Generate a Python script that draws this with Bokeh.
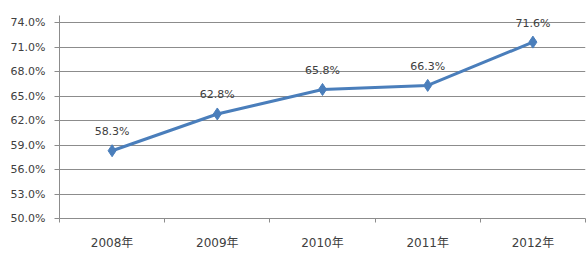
from bokeh.plotting import figure
from bokeh.models import Range1d, FixedTicker, PrintfTickFormatter, ColumnDataSource
from bokeh.embed import file_html
from bokeh.resources import INLINE
from bokeh.core.properties import value

years = ["2008年", "2009年", "2010年", "2011年", "2012年"]
rates = [58.3, 62.8, 65.8, 66.3, 71.6]
y_ticks = [50, 53, 56, 59, 62, 65, 68, 71, 74]

xs = [i + 0.5 for i in range(len(years))]
labels = ["%.1f%%" % v for v in rates]
src = ColumnDataSource(dict(x=xs, y=rates, label=labels))

FONT = "DejaVu Sans, Noto Sans CJK SC"
TXT = "#404040"
GRID = "#8c8c8c"
BLUE = "#4a7ebb"

p = figure(width=586, height=254, output_backend="svg", toolbar_location=None,
           x_range=Range1d(0, len(years)), y_range=Range1d(y_ticks[0], y_ticks[-1] + 0.86),
           min_border_left=59, min_border_right=1, min_border_top=15, min_border_bottom=36)
p.outline_line_color = None
p.background_fill_color = "white"

p.xgrid.grid_line_color = None
p.ygrid.grid_line_color = GRID
p.ygrid.grid_line_width = 1

# y axis
p.yaxis.ticker = FixedTicker(ticks=y_ticks)
p.yaxis.formatter = PrintfTickFormatter(format="%.1f%%")
p.yaxis.axis_line_color = GRID
p.yaxis.major_tick_line_color = GRID
p.yaxis.major_tick_in = 0
p.yaxis.major_tick_out = 5
p.yaxis.minor_tick_line_color = None
p.yaxis.major_label_standoff = 9
p.yaxis.major_label_text_font = FONT
p.yaxis.major_label_text_font_size = "11px"
p.yaxis.major_label_text_color = TXT

# x axis
p.xaxis.ticker = FixedTicker(ticks=xs, minor_ticks=list(range(len(years) + 1)))
p.xaxis.major_label_overrides = {x: y for x, y in zip(xs, years)}
p.xaxis.axis_line_color = GRID
p.xaxis.major_tick_line_color = None
p.xaxis.minor_tick_line_color = GRID
p.xaxis.minor_tick_in = 0
p.xaxis.minor_tick_out = 4
p.xaxis.major_label_standoff = 11
p.xaxis.major_label_text_font = FONT
p.xaxis.major_label_text_font_size = "12px"
p.xaxis.major_label_text_color = TXT

p.line("x", "y", source=src, line_color=BLUE, line_width=3)
p.scatter("x", "y", source=src, marker="diamond", size=12, fill_color=BLUE, line_color=BLUE)
p.text("x", "y", text="label", source=src, text_align="center", text_baseline="middle",
       y_offset=-19, text_font=value(FONT), text_font_size="11px", text_color=TXT)

open("out.html", "w").write(file_html(p, INLINE))
